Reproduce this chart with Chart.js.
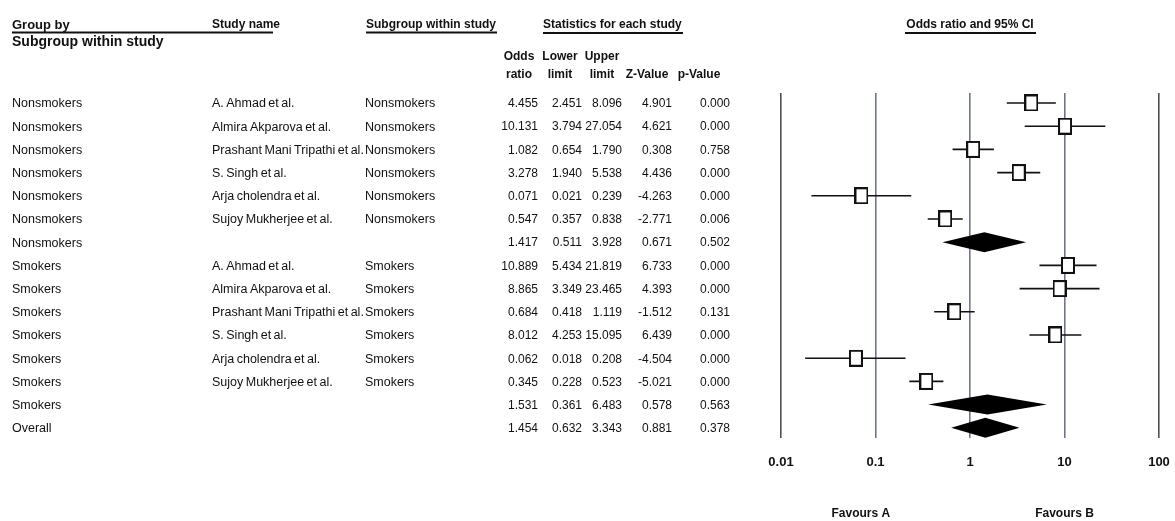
<!DOCTYPE html>
<html>
<head>
<meta charset="utf-8">
<script src="https://cdn.jsdelivr.net/npm/chart.js@4/dist/chart.umd.min.js"></script>
<style>
  html, body { margin: 0; padding: 0; background: #ffffff; }
  #wrap { position: relative; width: 1175px; height: 521px; }
</style>
</head>
<body>
<div id="wrap"><canvas id="forest" width="1175" height="521"></canvas></div>
<script>
// Rows of the forest plot, top to bottom
const groupBy = ['Nonsmokers', 'Nonsmokers', 'Nonsmokers', 'Nonsmokers', 'Nonsmokers', 'Nonsmokers', 'Nonsmokers',
                 'Smokers', 'Smokers', 'Smokers', 'Smokers', 'Smokers', 'Smokers', 'Smokers', 'Overall'];
const studyNames = ['A. Ahmad et al.', 'Almira Akparova et al.', 'Prashant Mani Tripathi et al.', 'S. Singh et al.',
                    'Arja cholendra et al.', 'Sujoy Mukherjee et al.', '',
                    'A. Ahmad et al.', 'Almira Akparova et al.', 'Prashant Mani Tripathi et al.', 'S. Singh et al.',
                    'Arja cholendra et al.', 'Sujoy Mukherjee et al.', '', ''];
const subgroups = ['Nonsmokers', 'Nonsmokers', 'Nonsmokers', 'Nonsmokers', 'Nonsmokers', 'Nonsmokers', '',
                   'Smokers', 'Smokers', 'Smokers', 'Smokers', 'Smokers', 'Smokers', '', ''];
const oddsRatio  = [4.455, 10.131, 1.082, 3.278, 0.071, 0.547, 1.417, 10.889, 8.865, 0.684, 8.012, 0.062, 0.345, 1.531, 1.454];
const lowerLimit = [2.451, 3.794, 0.654, 1.940, 0.021, 0.357, 0.511, 5.434, 3.349, 0.418, 4.253, 0.018, 0.228, 0.361, 0.632];
const upperLimit = [8.096, 27.054, 1.790, 5.538, 0.239, 0.838, 3.928, 21.819, 23.465, 1.119, 15.095, 0.208, 0.523, 6.483, 3.343];
const zValue     = [4.901, 4.621, 0.308, 4.436, -4.263, -2.771, 0.671, 6.733, 4.393, -1.512, 6.439, -4.504, -5.021, 0.578, 0.881];
const pValue     = [0.000, 0.000, 0.758, 0.000, 0.000, 0.006, 0.502, 0.000, 0.000, 0.131, 0.000, 0.000, 0.000, 0.563, 0.378];
const isSummary  = [false, false, false, false, false, false, true, false, false, false, false, false, false, true, true];
const axisTicks  = [0.01, 0.1, 1, 10, 100];

const FONT = '"Liberation Sans", Arial, sans-serif';

// Study marker: open rectangle
function makeBox() {
  const c = document.createElement('canvas');
  c.width = 14; c.height = 17;
  const g = c.getContext('2d');
  g.fillStyle = '#ffffff';
  g.fillRect(0, 0, 14, 17);
  g.strokeStyle = '#111111';
  g.lineWidth = 2;
  g.strokeRect(1, 1, 12, 15);
  return c;
}

const studyPoints = [];
oddsRatio.forEach((v, i) => { if (!isSummary[i]) studyPoints.push({ x: v, y: i }); });

// Whiskers and summary diamonds drawn through the chart's scales
const intervalPlugin = {
  id: 'intervals',
  beforeDatasetsDraw(chart) {
    const { ctx, scales: { x, y } } = chart;
    ctx.save();
    oddsRatio.forEach((v, i) => {
      const py = y.getPixelForValue(i);
      const xl = x.getPixelForValue(lowerLimit[i]);
      const xu = x.getPixelForValue(upperLimit[i]);
      const xm = x.getPixelForValue(v);
      if (isSummary[i]) {
        ctx.fillStyle = '#000000';
        ctx.beginPath();
        ctx.moveTo(xl, py);
        ctx.lineTo(xm, py - 10);
        ctx.lineTo(xu, py);
        ctx.lineTo(xm, py + 10);
        ctx.closePath();
        ctx.fill();
      } else {
        ctx.strokeStyle = '#111111';
        ctx.lineWidth = 1.6;
        ctx.beginPath();
        ctx.moveTo(xl, py);
        ctx.lineTo(xu, py);
        ctx.stroke();
      }
    });
    ctx.restore();
  }
};

// Left-hand table, column headings and captions
const tablePlugin = {
  id: 'forestTable',
  afterDraw(chart) {
    const { ctx, scales: { x, y } } = chart;
    ctx.save();
    ctx.fillStyle = '#111111';
    ctx.strokeStyle = '#111111';
    ctx.textBaseline = 'middle';

    const text = (s, px, py, font, align) => {
      ctx.font = font;
      ctx.textAlign = align || 'left';
      ctx.fillText(s, px, py);
    };
    const rule = (x0, x1, py) => {
      ctx.lineWidth = 1.8;
      ctx.beginPath();
      ctx.moveTo(x0, py);
      ctx.lineTo(x1, py);
      ctx.stroke();
    };

    const hb = 'bold 12px ' + FONT;
    text('Group by', 12, 25, 'bold 13px ' + FONT);
    text('Study name', 212, 25, hb);
    rule(12, 273, 32.5);
    text('Subgroup within study', 366, 25, hb);
    rule(366, 497, 32.5);
    text('Statistics for each study', 543, 25, hb);
    rule(543, 683, 33);
    text('Odds ratio and 95% CI', x.getPixelForValue(1), 25, hb, 'center');
    rule(905, 1036, 33);
    text('Subgroup within study', 12, 42, 'bold 14px ' + FONT);

    const heads = [['Odds', 'ratio', 519], ['Lower', 'limit', 560], ['Upper', 'limit', 602], ['', 'Z-Value', 647], ['', 'p-Value', 699]];
    heads.forEach(([a, b, cx]) => {
      if (a) text(a, cx, 57, hb, 'center');
      text(b, cx, 75, hb, 'center');
    });

    const body = '12.5px ' + FONT;
    const num = '12px ' + FONT;
    ctx.wordSpacing = '-1px';
    groupBy.forEach((g, i) => {
      const py = y.getPixelForValue(i) + 1;
      text(g, 12, py, body);
      if (studyNames[i]) text(studyNames[i], 212, py, body);
      if (subgroups[i]) text(subgroups[i], 365, py, body);
      text(oddsRatio[i].toFixed(3), 538, py, num, 'right');
      text(lowerLimit[i].toFixed(3), 582, py, num, 'right');
      text(upperLimit[i].toFixed(3), 622, py, num, 'right');
      text(zValue[i].toFixed(3), 672, py, num, 'right');
      text(pValue[i].toFixed(3), 730, py, num, 'right');
    });
    ctx.wordSpacing = '0px';

    text('Favours A', x.getPixelForValue(0.07), 514, hb, 'center');
    text('Favours B', x.getPixelForValue(10), 514, hb, 'center');
    ctx.restore();
  }
};

new Chart(document.getElementById('forest'), {
  type: 'scatter',
  data: {
    datasets: [{
      label: 'Odds ratio',
      data: studyPoints,
      pointStyle: makeBox(),
      pointRadius: 7,
      pointHoverRadius: 7
    }]
  },
  options: {
    responsive: false,
    animation: false,
    events: [],
    layout: { padding: { left: 781, right: 16, top: 93, bottom: 50 } },
    plugins: { legend: { display: false }, tooltip: { enabled: false } },
    scales: {
      x: {
        type: 'logarithmic',
        min: 0.01,
        max: 100,
        afterBuildTicks: (s) => { s.ticks = axisTicks.map(v => ({ value: v })); },
        afterFit: (s) => {
          s.height = 33;
          // the end labels fit inside the outer padding
          s.paddingLeft = 0;
          s.paddingRight = 0;
        },
        border: { display: false },
        grid: {
          drawTicks: false,
          lineWidth: 1.6,
          color: (c) => (c.index === 0 || c.index === axisTicks.length - 1) ? '#4d4f55' : '#6f7787'
        },
        ticks: {
          padding: 17,
          color: '#111111',
          font: { family: FONT, size: 13, weight: 'bold' },
          callback: (v) => String(v)
        }
      },
      y: {
        type: 'linear',
        reverse: true,
        min: -0.43,
        max: 14.44,
        display: false
      }
    }
  },
  plugins: [intervalPlugin, tablePlugin]
});
</script>
</body>
</html>
